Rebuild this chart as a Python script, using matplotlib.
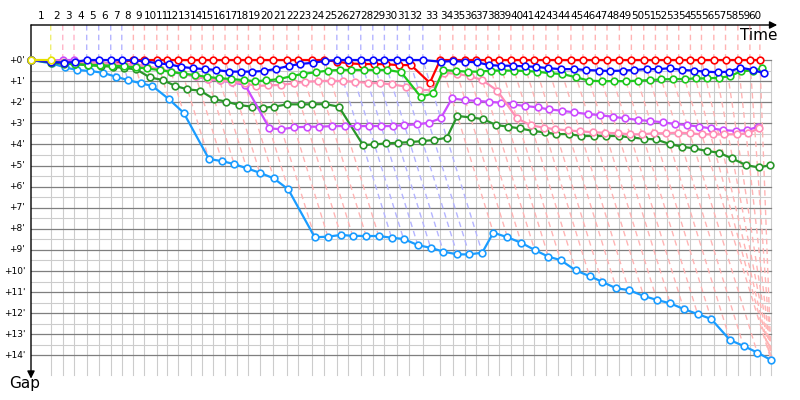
import numpy as np
import matplotlib
matplotlib.use('Agg')
import matplotlib.pyplot as plt

# leader lap times in seconds, laps 1..60
lap_times = [182, 111, 104, 117, 111, 111, 102, 107, 102, 114,
             98, 102, 114, 104, 104, 108, 114, 102, 108, 123,
             124, 107, 124, 116, 114, 107, 114, 111, 107, 120,
             111, 124, 160, 117, 111, 104, 108, 102, 111, 111,
             98, 114, 111, 120, 111, 114, 108, 114, 111, 114,
             108, 108, 107, 108, 102, 114, 108, 114, 111, 92]
lap_labels = [str(k) for k in range(1, 61)]

# gap to the leader in minutes, one value per completed lap
gap_yellow = [0.0]
gap_red = [0.06, 0.10, 0.12, 0.12, 0.14, 0.15, 0.10, 0.0, 0.0, 0.0,
           0.0, 0.0, 0.0, 0.0, 0.0, 0.0, 0.0, 0.0, 0.0, 0.0,
           0.0, 0.0, 0.0, 0.0, 0.08, 0.16, 0.19, 0.19, 0.20, 0.24,
           0.24, 1.08, 0.0, 0.0, 0.0, 0.0, 0.0, 0.0, 0.0, 0.0,
           0.0, 0.0, 0.0, 0.0, 0.0, 0.0, 0.0, 0.0, 0.0, 0.0,
           0.0, 0.0, 0.0, 0.0, 0.0, 0.0, 0.0, 0.0, 0.0, 0.0]
gap_blue = [0.10, 0.12, 0.10, 0.0, 0.0, 0.0, 0.0, 0.02, 0.06, 0.16,
            0.20, 0.32, 0.39, 0.43, 0.47, 0.55, 0.55, 0.55, 0.52, 0.42,
            0.28, 0.19, 0.13, 0.05, 0.0, 0.0, 0.0, 0.0, 0.0, 0.0,
            0.0, 0.0, 0.08, 0.05, 0.08, 0.11, 0.24, 0.27, 0.27, 0.30,
            0.32, 0.39, 0.43, 0.43, 0.47, 0.50, 0.52, 0.50, 0.47, 0.43,
            0.43, 0.39, 0.47, 0.50, 0.55, 0.58, 0.55, 0.36, 0.47, 0.63]
gap_lime = [0.05, 0.15, 0.20, 0.22, 0.25, 0.27, 0.30, 0.35, 0.40, 0.48,
            0.56, 0.64, 0.72, 0.80, 0.86, 0.90, 0.95, 1.00, 0.97, 0.90,
            0.76, 0.66, 0.58, 0.50, 0.47, 0.47, 0.47, 0.47, 0.47, 0.58,
            1.74, 1.58, 0.47, 0.52, 0.55, 0.55, 0.50, 0.50, 0.50, 0.52,
            0.55, 0.63, 0.66, 0.82, 0.98, 1.00, 1.00, 1.00, 0.98, 0.95,
            0.92, 0.90, 0.90, 0.87, 0.87, 0.84, 0.76, 0.52, 0.50, 0.39]
gap_pink = [0.06, 0.08, 0.10, 0.12, 0.15, 0.17, 0.20, 0.22, 0.28, 0.44,
            0.55, 0.66, 0.76, 0.90, 0.95, 1.03, 1.10, 1.23, 1.20, 1.18,
            1.10, 1.03, 1.00, 0.98, 1.00, 1.03, 1.08, 1.10, 1.15, 1.26,
            1.42, 1.42, 0.60, 0.66, 0.76, 0.95, 1.45, 2.76, 3.10, 3.20,
            3.28, 3.33, 3.38, 3.42, 3.45, 3.47, 3.52, 3.52, 3.47, 3.47,
            3.44, 3.47, 3.52, 3.52, 3.52, 3.52, 3.47, 3.24]
gap_magenta = [0.03, 0.0, 0.0, 0.10, 0.14, 0.16, 0.20, 0.22, 0.30, 0.45,
               0.56, 0.66, 0.78, 0.90, 0.97, 1.05, 1.18, 3.24, 3.28, 3.19,
               3.16, 3.16, 3.13, 3.13, 3.13, 3.13, 3.13, 3.13, 3.08, 3.05,
               2.97, 2.76, 1.82, 1.90, 1.94, 1.98, 2.02, 2.10, 2.18, 2.24,
               2.34, 2.40, 2.48, 2.56, 2.61, 2.69, 2.76, 2.84, 2.89, 2.95,
               3.03, 3.08, 3.16, 3.24, 3.32, 3.36, 3.32, 3.16]
gap_darkgreen = [0.12, 0.19, 0.19, 0.25, 0.28, 0.32, 0.38, 0.44, 0.82, 0.95,
                 1.23, 1.39, 1.45, 1.86, 1.97, 2.13, 2.21, 2.26, 2.21, 2.10,
                 2.10, 2.10, 2.09, 2.21, 4.03, 4.00, 3.95, 3.92, 3.89, 3.84,
                 3.79, 3.68, 2.65, 2.72, 2.80, 3.08, 3.16, 3.24, 3.36, 3.43,
                 3.51, 3.51, 3.60, 3.60, 3.60, 3.60, 3.67, 3.73, 3.76, 3.98,
                 4.11, 4.19, 4.31, 4.39, 4.66, 4.98, 5.09, 4.98]
gap_cyan = [0.16, 0.35, 0.47, 0.52, 0.60, 0.79, 0.95, 1.10, 1.23, 1.85,
            2.50, 4.69, 4.79, 4.93, 5.13, 5.34, 5.61, 6.13, 8.40, 8.37,
            8.29, 8.33, 8.34, 8.34, 8.42, 8.48, 8.77, 8.90, 9.08, 9.21,
            9.21, 9.13, 8.18, 8.40, 8.66, 9.00, 9.32, 9.48, 9.97, 10.24,
            10.50, 10.82, 10.90, 11.18, 11.37, 11.53, 11.80, 12.04, 12.27, 13.27,
            13.55, 13.86, 14.22]

# drawing order: bottom to top
cars = [
    ('cyan', '#1a9cff', '#ffb4b4', gap_cyan),
    ('darkgreen', '#2a962a', '#ffb4b4', gap_darkgreen),
    ('red', '#ff0000', '#ffb4b4', gap_red),
    ('magenta', '#cc4cff', '#ffb4c8', gap_magenta),
    ('pink', '#ff8fb5', '#ffb4b4', gap_pink),
    ('lime', '#1ec81e', '#ffb4b4', gap_lime),
    ('blue', '#0a0aff', '#b4b4ff', gap_blue),
    ('yellow', '#e6e000', '#eeee70', gap_yellow),
]

T = np.concatenate([[0.0], np.cumsum(lap_times) / 60.0])   # minutes


def points(g):
    g = np.asarray(g)
    x = T[1:len(g) + 1] + g
    return np.concatenate([[0.0], x]), np.concatenate([[0.0], g])


ytop = -1.66
fig = plt.figure(figsize=(8, 4), dpi=100)
ax = fig.add_axes([31 / 800, 15 / 400, 754 / 800, 360 / 400])
ax.set_xlim(0, 116)
ax.set_ylim(15.4, ytop)
ax.axis('off')

xmax = max(points(c[3])[0].max() for c in cars)

# grid
for k in range(14):
    ax.plot([0, xmax], [k + 0.5, k + 0.5], color='#cccccc', lw=0.8, zorder=0.5)
for t in list(T[1:]) + [xmax]:
    ax.plot([t, t], [0, 14.93], color='#cccccc', lw=0.8, zorder=0.6)
for k in range(15):
    ax.plot([0, xmax], [k, k], color='#7f7f7f', lw=0.9, zorder=0.7)

# lap lines, coloured by the leader of that lap
cx, cy = points(gap_cyan)
for k in range(1, 61):
    best = None
    for name, col, light, g in cars:
        if len(g) >= k and (best is None or g[k - 1] < best[0]):
            best = (g[k - 1], light)
    idx = min(k, len(gap_cyan))
    ax.plot([T[k], T[k], cx[idx]], [ytop, 0, cy[idx]], color=best[1],
            lw=1.0, ls=(0, (4, 3)), zorder=1, clip_on=False)

# cars
for i, (name, col, light, g) in enumerate(cars):
    x, y = points(g)
    ax.plot(x, y, '-o', color=col, lw=1.6, ms=4.8, mfc='white', mec=col,
            mew=1.2, zorder=3 + i, clip_on=False)

# labels
for k in range(15):
    ax.text(-0.9, k, "+%d'" % k, ha='right', va='center', fontsize=6.5)
for k in range(1, 61):
    ax.text((T[k - 1] + T[k]) / 2, ytop - 0.43, lap_labels[k - 1],
            ha='center', va='center', fontsize=7.5)

ax.annotate('', xy=(114.8, ytop), xytext=(0, ytop), annotation_clip=False,
            arrowprops=dict(arrowstyle='-|>', color='black', lw=1,
                            mutation_scale=11, shrinkA=0, shrinkB=0))
ax.annotate('', xy=(0, 15.1), xytext=(0, ytop), annotation_clip=False,
            arrowprops=dict(arrowstyle='-|>', color='black', lw=1,
                            mutation_scale=11, shrinkA=0, shrinkB=0))
ax.text(114.8, -1.15, 'Time', ha='right', va='center', fontsize=11)
ax.text(-0.92, 15.35, 'Gap', ha='center', va='center', fontsize=11,
        clip_on=False)

fig.savefig('out.png', dpi=100)
